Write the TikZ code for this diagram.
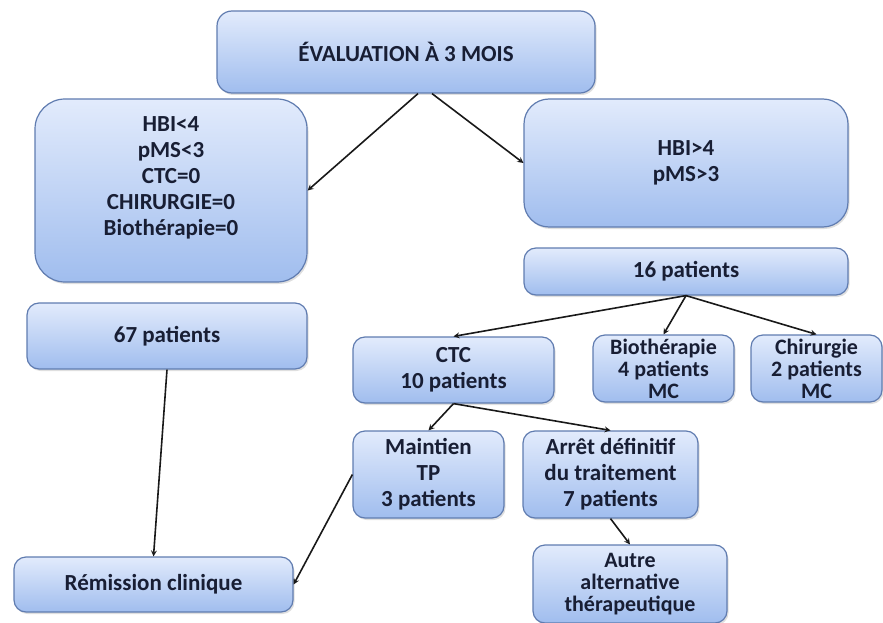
\documentclass[tikz,border=0pt]{standalone}
\usepackage{fontspec}
\setmainfont{Carlito}
\usetikzlibrary{arrows,shadows}

\definecolor{boxtop}{RGB}{226,235,252}
\definecolor{boxbot}{RGB}{160,189,238}
\definecolor{boxline}{RGB}{96,124,176}
\definecolor{boxtext}{RGB}{24,30,52}

\begin{document}
\begin{tikzpicture}[x=1pt,y=-1pt,
    box/.style={draw=boxline, line width=1.2pt, rounded corners=12pt,
      top color=boxtop, bottom color=boxbot, text=boxtext,
      font=\bfseries\fontsize{23}{26}\selectfont, align=center, inner sep=0pt,
      drop shadow={opacity=0.25, shadow xshift=1.5pt, shadow yshift=-2pt}},
    tight/.style={font=\bfseries\fontsize{22}{22}\selectfont},
    link/.style={->, >=stealth, line width=1.6pt, draw=black!90}]
        \useasboundingbox (0,0) rectangle (883,623);

        % Top level
        \node[box, rounded corners=15pt, minimum width=378pt, minimum height=82pt] (eval) at (406,52) {ÉVALUATION À 3 MOIS};

        % Two groups
        \node[box, rounded corners=30pt, minimum width=272pt, minimum height=183pt] (bas) at (171,190.5)
          {\raisebox{12pt}[\height][\depth]{\begin{tabular}{@{}c@{}}HBI<4\\ pMS<3\\ CTC=0\\ CHIRURGIE=0\\ Biothérapie=0\end{tabular}}};
        \node[box, rounded corners=25pt, minimum width=324pt, minimum height=128pt] (haut) at (686,163) {HBI>4\\ pMS>3};

        % Patient counts
        \node[box, minimum width=280pt, minimum height=66pt] (p67) at (167,336) {67 patients};
        \node[box, minimum width=324pt, minimum height=47pt] (p16) at (686,271.5) {16 patients};

        % Treatments
        \node[box, minimum width=201pt, minimum height=66pt] (ctc) at (453.5,370) {CTC\\ 10 patients};
        \node[box, tight, minimum width=141pt, minimum height=67pt] (bio) at (663.5,368.5) {Biothérapie\\ 4 patients\\ MC};
        \node[box, tight, minimum width=131pt, minimum height=67pt] (chir) at (816.5,368.5) {Chirurgie\\ 2 patients\\ MC};

        % After CTC
        \node[box, minimum width=151pt, minimum height=87pt] (maint) at (428.5,474.5) {Maintien\\ TP\\ 3 patients};
        \node[box, minimum width=175pt, minimum height=87pt] (arret) at (610.5,474.5) {Arrêt définitif\\ du traitement\\ 7 patients};

        % Outcomes
        \node[box, minimum width=279pt, minimum height=55pt] (remission) at (153.5,584.5) {Rémission clinique};
        \node[box, tight, minimum width=194pt, minimum height=78pt] (autre) at (630,584) {Autre\\ alternative\\ thérapeutique};

        % Arrows
        \draw[link] ([xshift=12pt]eval.south) -- (bas.east);
        \draw[link] ([xshift=26pt]eval.south) -- (haut.west);
        \draw[link] (p67.south) -- (remission.north);
        \draw[link] (p16.south) -- (ctc.north);
        \draw[link] (p16.south) -- (bio.north);
        \draw[link] (p16.south) -- (chir.north);
        \draw[link] (ctc.south) -- (maint.north);
        \draw[link] (ctc.south) -- (arret.north);
        \draw[link] (maint.west) -- (remission.east);
        \draw[link] (arret.south) -- (autre.north);

    \end{tikzpicture}
\end{document}
